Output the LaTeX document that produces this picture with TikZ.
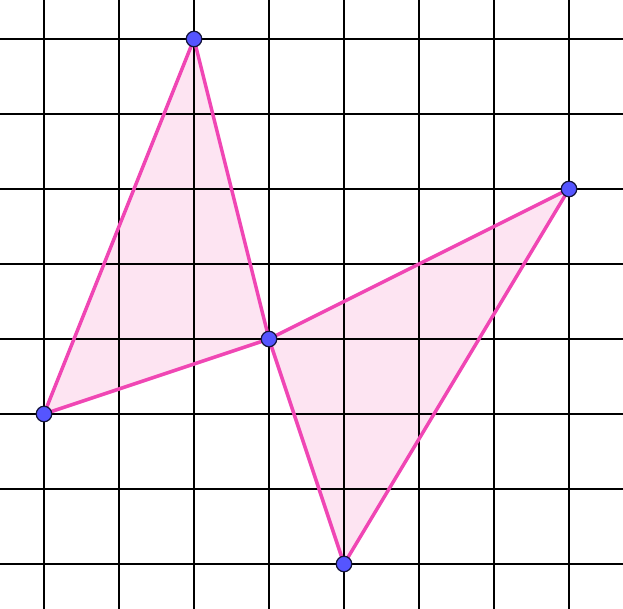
\documentclass[tikz,border=0pt]{standalone}
\definecolor{edgepink}{RGB}{240,70,180}
\definecolor{fillpink}{RGB}{253,228,242}
\definecolor{ptblue}{RGB}{85,85,255}
\definecolor{ptedge}{RGB}{20,20,60}
\begin{document}
\begin{tikzpicture}[x=0.02cm,y=-0.02cm,
  gridline/.style={black,line width=0.04cm},
  tri/.style={draw=edgepink,line width=0.07cm,line join=round},
  pt/.style={circle,draw=ptedge,fill=ptblue,line width=0.025cm,inner sep=0pt,minimum size=0.31cm}]
\useasboundingbox (0,0) rectangle (623,609);
\fill[white] (0,0) rectangle (623,609);
\coordinate (A) at (194,39);
\coordinate (B) at (44,414);
\coordinate (C) at (269,339);
\coordinate (D) at (569,189);
\coordinate (E) at (344,564);
\fill[fillpink] (A) -- (B) -- (C) -- cycle;
\fill[fillpink] (C) -- (D) -- (E) -- cycle;
\foreach \i in {0,...,7} {
  \draw[gridline] (44+75*\i,0) -- (44+75*\i,609);
  \draw[gridline] (0,39+75*\i) -- (623,39+75*\i);
}
\draw[tri] (A) -- (B) -- (C) -- cycle;
\draw[tri] (C) -- (D) -- (E) -- cycle;
\node[pt] (a) at (A) {};
\node[pt] (b) at (B) {};
\node[pt] (c) at (C) {};
\node[pt] (d) at (D) {};
\node[pt] (e) at (E) {};
\end{tikzpicture}
\end{document}
